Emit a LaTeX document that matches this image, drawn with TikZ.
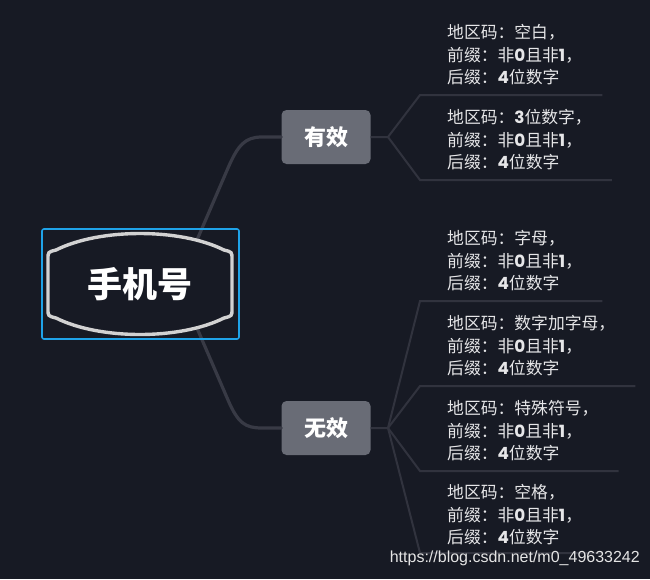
\documentclass[tikz,border=0pt]{standalone}
\usepackage{fontspec}
\setmainfont{Noto Sans CJK SC}
\newfontfamily\digitfont{Poppins}
\newfontfamily\wmfont{Liberation Sans}
\usetikzlibrary{calc}
\definecolor{bgc}{HTML}{171A24}
\definecolor{mainline}{HTML}{383A45}
\definecolor{subline}{HTML}{31333E}
\definecolor{boxfill}{HTML}{696C76}
\definecolor{rootring}{HTML}{D2D2D2}
\definecolor{selblue}{HTML}{1FA3E8}
\definecolor{txt}{HTML}{E6E6E8}
\newcommand{\dg}[1]{{\digitfont\bfseries #1}}
\tikzset{
  mainconn/.style={draw=mainline,line width=3.2pt,line cap=round},
  subconn/.style={draw=subline,line width=2pt},
  catbox/.style={fill=boxfill,rounded corners=5pt,minimum width=89pt,minimum height=54pt,inner sep=0pt,text=white,font=\fontsize{22}{24}\selectfont\bfseries},
  leaf/.style={anchor=west,align=left,inner sep=0pt,text=txt,font=\fontsize{16.8}{22.5}\selectfont},
}
\begin{document}
\begin{tikzpicture}[x=1pt,y=-1pt]
\fill[bgc] (0,0) rectangle (650,579);
\useasboundingbox (0,0) rectangle (650,579);

% main connectors (drawn first, covered by root)
\coordinate (rc) at (178,284);
\node[catbox] (yes) at (326,137) {有效};
\node[catbox] (no) at (326,428) {无效};
\draw[mainconn] (rc) -- (228,168) .. controls (238,145) and (245,137) .. (262,137) -- (yes.west);
\draw[mainconn] (rc) -- (228,400) .. controls (238,423) and (245,428) .. (262,428) -- (no.west);

% root
\draw[selblue,line width=1.6pt,rounded corners=2pt] (42,229) rectangle (239,339);
\fill[bgc] (48,259) .. controls (48,252) .. (56,250) .. controls (100,228) and (180,228) .. (224,250) .. controls (232,252) .. (232,259) -- (232,309) .. controls (232,316) .. (224,318) .. controls (180,340) and (100,340) .. (56,318) .. controls (48,316) .. (48,309) -- cycle;
\draw[rootring,line width=3.4pt] (48,259) .. controls (48,252) .. (56,250) .. controls (100,228) and (180,228) .. (224,250) .. controls (232,252) .. (232,259) -- (232,309) .. controls (232,316) .. (224,318) .. controls (180,340) and (100,340) .. (56,318) .. controls (48,316) .. (48,309) -- cycle;
\node[text=white,font=\fontsize{35}{38}\selectfont\bfseries,inner sep=0pt] (root) at (140,284) {手机号};

% leaves of 有效
\coordinate (jy) at (388,137);
\coordinate (s1) at (420,95);
\coordinate (s2) at (420,180);
\node[leaf] (a1) at (447,55) {地区码：空白，\\前缀：非\dg{0}且非\dg{1}，\\后缀：\dg{4}位数字};
\node[leaf] (a2) at (447,140) {地区码：\dg{3}位数字，\\前缀：非\dg{0}且非\dg{1}，\\后缀：\dg{4}位数字};
\draw[subconn] (yes.east) -- (jy) -- (s1) -- ($(a1.east |- s1)+(20,0)$);
\draw[subconn] (jy) -- (s2) -- ($(a2.east |- s2)+(20,0)$);

% leaves of 无效
\coordinate (jn) at (388,428);
\coordinate (t1) at (420,301);
\coordinate (t2) at (420,386);
\coordinate (t3) at (420,471);
\coordinate (t4) at (420,553);
\node[leaf] (b1) at (447,261) {地区码：字母，\\前缀：非\dg{0}且非\dg{1}，\\后缀：\dg{4}位数字};
\node[leaf] (b2) at (447,346) {地区码：数字加字母，\\前缀：非\dg{0}且非\dg{1}，\\后缀：\dg{4}位数字};
\node[leaf] (b3) at (447,431) {地区码：特殊符号，\\前缀：非\dg{0}且非\dg{1}，\\后缀：\dg{4}位数字};
\node[leaf] (b4) at (447,515) {地区码：空格，\\前缀：非\dg{0}且非\dg{1}，\\后缀：\dg{4}位数字};
\draw[subconn] (no.east) -- (jn) -- (t1) -- ($(b1.east |- t1)+(20,0)$);
\draw[subconn] (jn) -- (t2) -- ($(b2.east |- t2)+(20,0)$);
\draw[subconn] (jn) -- (t3) -- ($(b3.east |- t3)+(20,0)$);
\draw[subconn] (jn) -- (t4) -- ($(b4.east |- t4)+(20,0)$);

% watermark
\node[text=white!80!gray,font=\wmfont\fontsize{16}{18}\selectfont,inner sep=0pt,anchor=east] (wm) at (640,558) {https://blog.csdn.net/m0\_49633242};
\end{tikzpicture}
\end{document}
